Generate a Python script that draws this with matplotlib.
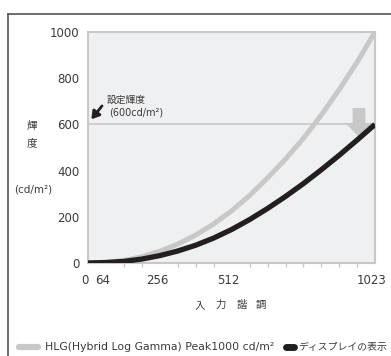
import matplotlib
matplotlib.use("Agg")
from matplotlib import pyplot as plt
from matplotlib import patches as mpatches
from matplotlib import transforms as mtransforms
from matplotlib.lines import Line2D

plt.rcParams['font.family'] = ['DejaVu Sans', 'Noto Sans CJK JP']

# input level (10 bit) and luminance
levels = [0, 64, 128, 192, 256, 320, 384, 448, 512, 576, 640, 704, 768, 832, 896, 960, 1023]
hlg_peak1000 = [0, 3, 11, 27, 51, 82, 121, 169, 226, 292, 368, 450, 540, 641, 752, 871, 1000]
display_out = [0, 2, 7, 17, 32, 52, 77, 108, 145, 188, 236, 288, 344, 404, 467, 533, 600]

x_labels = [0, 64, 256, 512, 1023]
y_labels = [0, 200, 400, 600, 800, 1000]
set_luminance = 600
xlabel_chars = ['入', '力', '諧', '調']

LIGHT = '#c8c8c8'
DARK = '#231f20'
TEXT = '#3a3a3a'

fig = plt.figure(figsize=(3.91, 3.56), dpi=100)
ax = fig.add_axes([88 / 391, 1 - 263 / 356, 287 / 391, 231 / 356])
ax.set_facecolor('#eff0f2')

# outer frame (left and top edges only are inside the image)
fig.add_artist(Line2D([8 / 391, 8 / 391], [0, 1 - 14 / 356], transform=fig.transFigure,
                      color='#555555', lw=1.2))
fig.add_artist(Line2D([8 / 391, 1], [1 - 14 / 356, 1 - 14 / 356], transform=fig.transFigure,
                      color='#555555', lw=1.2))

ax.axhline(set_luminance, color=LIGHT, lw=1.2, zorder=1)
ax.plot(levels, hlg_peak1000, color=LIGHT, lw=3.6, solid_capstyle='butt', zorder=2)

arrow = mpatches.FancyArrow(966, 671, 0, -126, width=46, head_width=96, head_length=61,
                            length_includes_head=True, color=LIGHT, lw=0, zorder=2)
ax.add_patch(arrow)

ax.plot(levels, display_out, color=DARK, lw=3.8, solid_capstyle='butt', zorder=3)

ax.annotate('', xy=(12, 622), xytext=(50, 680),
            arrowprops=dict(arrowstyle='-|>,head_length=0.45,head_width=0.28',
                            color=DARK, lw=2, shrinkA=0, shrinkB=0))
ax.text(68, 705, '設定輝度', fontsize=7, color=TEXT, va='center', ha='left')
ax.text(76, 650, '(600cd/m²)', fontsize=7, color=TEXT, va='center', ha='left')

ax.set_xlim(0, 1023)
ax.set_ylim(0, 1000)
ax.set_xticks(x_labels)
ax.set_xticklabels([str(v) for v in x_labels])
ax.set_xticks(list(range(0, 1024, 64)), minor=True)
ax.set_yticks(y_labels)
ax.tick_params(axis='x', which='major', length=0, pad=8, labelsize=8.5, labelcolor=TEXT)
ax.tick_params(axis='x', which='minor', length=3, width=1, color=LIGHT)
ax.tick_params(axis='y', length=0, pad=6, labelsize=8.5, labelcolor=TEXT)
shift = mtransforms.ScaledTranslation(-3 / 100, 0, fig.dpi_scale_trans)
for lab in ax.get_xticklabels():
    lab.set_transform(lab.get_transform() + shift)

for sp in ax.spines.values():
    sp.set_color(LIGHT)
    sp.set_linewidth(1.5)

fig.text(32 / 391, 1 - 126 / 356, '輝', fontsize=7.5, color=TEXT, ha='center', va='center')
fig.text(32 / 391, 1 - 143 / 356, '度', fontsize=7.5, color=TEXT, ha='center', va='center')
fig.text(33 / 391, 1 - 189 / 356, '(cd/m²)', fontsize=7.5, color=TEXT, ha='center', va='center')
for ch, px in zip(xlabel_chars, [200, 221, 242, 261]):
    fig.text(px / 391, 1 - 305 / 356, ch, fontsize=7.5, color=TEXT, ha='center', va='center')

# legend row
ly = 1 - 347 / 356
fig.add_artist(Line2D([19 / 391, 38 / 391], [ly, ly], transform=fig.transFigure,
                      color=LIGHT, lw=4.5, solid_capstyle='round'))
fig.text(45 / 391, ly, 'HLG(Hybrid Log Gamma) Peak1000 cd/m²', fontsize=7.8, color=TEXT,
         ha='left', va='center')
fig.add_artist(Line2D([286 / 391, 294 / 391], [ly, ly], transform=fig.transFigure,
                      color=DARK, lw=5, solid_capstyle='round'))
fig.text(298 / 391, ly, 'ディスプレイの表示', fontsize=7.1, color=TEXT, ha='left', va='center')

fig.savefig('out.png', dpi=100)
